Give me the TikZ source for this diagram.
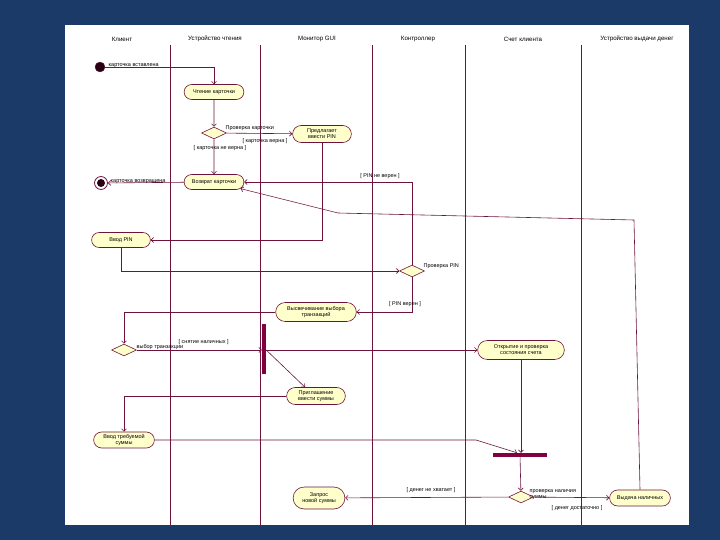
\documentclass[tikz,border=0pt]{standalone}
\usepackage{fontspec}
\setmainfont{Liberation Sans}
\usetikzlibrary{arrows.meta,positioning,shapes.geometric,shapes.misc}
\definecolor{bgblue}{RGB}{28,58,104}
\definecolor{linec}{RGB}{110,20,60}
\definecolor{actfill}{RGB}{255,255,204}
\definecolor{barc}{RGB}{128,0,64}
\definecolor{startc}{RGB}{40,0,20}

\begin{document}
\begin{tikzpicture}[x=1bp,y=-1bp,>={Straight Barb[length=2.5pt,width=5pt]},
  every node/.style={align=center,font=\fontsize{5.5}{6}\selectfont},
  act/.style={rounded rectangle,draw=linec,fill=actfill,line width=0.6pt,inner sep=1pt,minimum height=15},
  choice/.style={diamond,draw=linec,fill=actfill,line width=0.6pt,inner sep=0pt,minimum width=25,minimum height=12},
  bar/.style={fill=barc,inner sep=0pt},
  flow/.style={->,draw=linec,line width=0.6pt},
  lane/.style={draw=linec,line width=0.8pt},
  lanetitle/.style={font=\fontsize{6.2}{7}\selectfont},
  lbl/.style={inner sep=0.5pt}]
  \useasboundingbox (0,0) rectangle (720,540);
  \fill[bgblue] (0,0) rectangle (720,540);
  \fill[white] (65,25) rectangle (689,525);
  % swimlanes
  \node[lanetitle] (laneClient) at (122,39) {Клиент};
  \node[lanetitle] (laneReader) at (215,39) {Устройство чтения};
  \node[lanetitle] (laneGui) at (317,39) {Монитор GUI};
  \node[lanetitle] (laneCtrl) at (418,39) {Контроллер};
  \node[lanetitle] (laneAcc) at (523,39) {Счет клиента};
  \node[lanetitle] (laneCash) at (637,39) {Устройство выдачи денег};
  \foreach \lx in {170,260,372,465,581}
    \draw[lane] (\lx,45) -- (\lx,525);
  % states
  \node[circle,draw=linec,fill=startc,minimum size=10,inner sep=0pt] (start) at (100,67) {};
  \node[act,minimum width=62] (readcard) at (214,92) {Чтение карточки};
  \node[choice] (checkcard) at (214,133) {};
  \node[act,minimum width=61,minimum height=17] (askpin) at (322,134) {Предлагает\\ввести PIN};
  \node[act,minimum width=62] (returncard) at (214,182) {Возврат карточки};
  \node[circle,draw=linec,fill=white,minimum size=13,inner sep=0pt,line width=0.8pt] (final) at (101,183) {};
  \node[circle,fill=startc,minimum size=8,inner sep=0pt] (finaldot) at (final) {};
  \node[act,minimum width=61] (enterpin) at (121,240) {Ввод PIN};
  \node[choice] (checkpin) at (412,271) {};
  \node[act,minimum width=83,minimum height=19] (showmenu) at (316,312) {Высвечивание выбора\\транзакций};
  \node[choice] (choosetr) at (124,350) {};
  \node[bar,minimum width=4,minimum height=50] (fork) at (264,349) {};
  \node[act,minimum width=89,minimum height=19] (openacc) at (521,350) {Открытие и проверка\\состояния счета};
  \node[act,minimum width=61,minimum height=17] (askamount) at (316,396) {Приглашение\\ввести суммы};
  \node[act,minimum width=63,minimum height=16] (enteramount) at (124,440) {Ввод требуемой\\суммы};
  \node[bar,minimum width=55,minimum height=4] (join) at (520,455) {};
  \node[choice] (checkcash) at (521,497) {};
  \node[act,minimum width=54,minimum height=22] (newamount) at (319,498) {Запрос\\новой суммы};
  \node[act,minimum width=63,minimum height=16] (givecash) at (640,498) {Выдача наличных};
  \coordinate (bendjoin) at (476,440);
  \coordinate (cashup) at (634,220);
  \coordinate (cashleft) at (338,213);
  % transitions
  \draw[flow] (start) -| (readcard);
  \draw[flow] (readcard) -- (checkcard);
  \draw[flow] (checkcard) -- (askpin);
  \draw[flow] (checkcard) -- (returncard);
  \draw[flow] (returncard) -- (final);
  \draw[flow] (askpin) |- (enterpin);
  \draw[flow] (enterpin) |- (checkpin);
  \draw[flow] (checkpin) |- (returncard);
  \draw[flow] (checkpin) |- (showmenu);
  \draw[flow] (showmenu) -| (choosetr);
  \draw[flow] (choosetr) -- (choosetr -| fork.west);
  \draw[flow] (fork.east |- openacc) -- (openacc);
  \draw[flow] (fork.east |- openacc) -- ([xshift=-11]askamount.north);
  \draw[flow] (askamount) -| (enteramount);
  \draw[flow] (enteramount.east) -- (bendjoin) -- ([xshift=-3]join.north);
  \draw[flow] (openacc.south) -- (openacc.south |- join.north);
  \draw[flow] (join) -- (checkcash);
  \draw[flow] (checkcash) -- (givecash);
  \draw[flow] (checkcash) -- (newamount);
  \draw[flow] (givecash.north) -- (cashup) -- (cashleft) -- (returncard);
  % labels
  \node[lbl,anchor=south west] (lblinsert) at (108,68) {карточка вставлена};
  \node[lbl,anchor=west] (lblcheckcard) at (225,128) {Проверка карточки};
  \node[lbl] (lblcardok) at (265,141) {[ карточка верна ]};
  \node[lbl] (lblcardbad) at (220,148) {[ карточка не верна ]};
  \node[lbl,anchor=south west] (lblreturned) at (110,184) {карточка возвращена};
  \node[lbl] (lblpinbad) at (380,176) {[ PIN не верен ]};
  \node[lbl,anchor=west] (lblcheckpin) at (423,266) {Проверка PIN};
  \node[lbl] (lblpinok) at (405,304) {[ PIN верен ]};
  \node[lbl,anchor=west] (lblchoose) at (136,347) {выбор транзакции};
  \node[lbl,anchor=west] (lblwithdraw) at (178,342) {[ снятие наличных ]};
  \node[lbl,anchor=north west,align=left] (lblcheckcash) at (529,489) {проверка наличия\\суммы};
  \node[lbl] (lblenough) at (577,508) {[ денег достаточно ]};
  \node[lbl] (lblshort) at (431,490) {[ денег не хватает ]};
\end{tikzpicture}
\end{document}
